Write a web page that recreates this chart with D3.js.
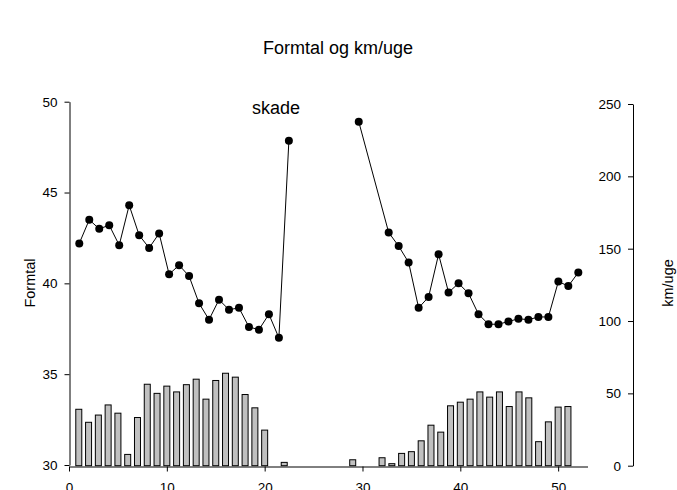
<!DOCTYPE html>
<html lang="en">
<head>
<meta charset="utf-8">
<title>Formtal og km/uge</title>
<script src="https://d3js.org/d3.v7.min.js"></script>
<style>
	body { margin: 0; background: #fff; }
	text { font-family: Arial, "Liberation Sans", sans-serif; fill: #000; }
	.axis path, .axis line { stroke: #000; stroke-width: 1; }
	.axis text { font-size: 13.5px; }
</style>
</head>
<body>
<svg class="chart"></svg>

<script>
//formtal (line) per week
var lineWeeks = [1, 2, 3, 4, 5, 6, 7, 8, 9, 10, 11, 12, 13, 14, 15, 16, 17, 18, 19, 20, 21, 22,
	29, 32, 33, 34, 35, 36, 37, 38, 39, 40, 41, 42, 43, 44, 45, 46, 47, 48, 49, 50, 51];
var formtal = [42.2, 43.5, 43.0, 43.2, 42.1, 44.3, 42.65, 41.95, 42.75, 40.5, 41.0, 40.4, 38.9, 38.0, 39.1, 38.55, 38.65, 37.6, 37.45, 38.3, 37.0, 47.85,
	48.9, 42.8, 42.05, 41.15, 38.65, 39.25, 41.6, 39.5, 40.0, 39.45, 38.3, 37.75, 37.75, 37.9, 38.05, 38.0, 38.15, 38.15, 40.1, 39.85, 40.6];

//km per week (bars)
var barWeeks = [1, 2, 3, 4, 5, 6, 7, 8, 9, 10, 11, 12, 13, 14, 15, 16, 17, 18, 19, 20, 22,
	29, 32, 33, 34, 35, 36, 37, 38, 39, 40, 41, 42, 43, 44, 45, 46, 47, 48, 49, 50, 51];
var km = [39, 30, 35, 42, 36.3, 7.8, 33.3, 56.3, 50, 55, 51, 56, 59.8, 46, 58.9, 63.9, 61.2, 49.2, 40, 24.6, 2.3,
	4.1, 5.5, 1.4, 8.5, 9.7, 17.2, 28, 23.2, 41.4, 43.9, 46, 51, 47.4, 51, 40.9, 51, 46.9, 16.6, 30.3, 40.5, 40.9];

var xTicks = [0, 10, 20, 30, 40, 50];
var leftTicks = [30, 35, 40, 45, 50];
var rightTicks = [0, 50, 100, 150, 200, 250];

var width = 677;
var height = 490;

var chart = d3.select(".chart")
	.attr("width", width)
	.attr("height", height);

//scales: bars and ticks use 0-53, the line graph uses 0-52 across the same width
var xBar = d3.scaleLinear().domain([0, 53]).range([69, 587.5]);
var xLine = d3.scaleLinear().domain([0, 52]).range([69.3, 588.3]);
var yLeft = d3.scaleLinear().domain([30, 50]).range([465, 101.7]);
var yRight = d3.scaleLinear().domain([0, 250]).range([465.7, 104]);

//bars
chart.selectAll(".bar")
	.data(barWeeks)
	.enter()
	.append("rect")
	.attr("class", "bar")
	.attr("x", function(d) { return xBar(d) - 3; })
	.attr("y", function(d, i) { return yRight(km[i]); })
	.attr("width", 6)
	.attr("height", function(d, i) { return yRight(0) - yRight(km[i]); })
	.style("fill", "#c0c0c0")
	.style("stroke", "#000")
	.style("stroke-width", 1);

//line with a gap where weeks are missing
var linePts = lineWeeks.map(function(w, i) { return { week: w, v: formtal[i], prev: i > 0 ? lineWeeks[i - 1] : w - 1 }; });
var segments = [];
linePts.forEach(function(p) {
	if (p.week - p.prev > 5 || segments.length === 0) segments.push([]);
	segments[segments.length - 1].push(p);
});

var line = d3.line()
	.x(function(d) { return xLine(d.week); })
	.y(function(d) { return yLeft(d.v); });

chart.selectAll(".seg")
	.data(segments)
	.enter()
	.append("path")
	.attr("class", "seg")
	.attr("d", line)
	.style("fill", "none")
	.style("stroke", "#000")
	.style("stroke-width", 1);

chart.selectAll(".dot")
	.data(linePts)
	.enter()
	.append("circle")
	.attr("class", "dot")
	.attr("cx", function(d) { return xLine(d.week); })
	.attr("cy", function(d) { return yLeft(d.v); })
	.attr("r", 4)
	.style("fill", "#000");

//axes
chart.append("g")
	.attr("class", "axis")
	.attr("transform", "translate(0,466.5)")
	.call(d3.axisBottom(xBar).tickValues(xTicks).tickSize(5).tickPadding(11).tickSizeOuter(0));

chart.append("g")
	.attr("class", "axis")
	.attr("transform", "translate(69.5,0)")
	.call(d3.axisLeft(yLeft).tickValues(leftTicks).tickSize(5).tickPadding(7).tickSizeOuter(0));

chart.append("g")
	.attr("class", "axis")
	.attr("transform", "translate(633,0)")
	.call(d3.axisLeft(yRight).tickValues(rightTicks).tickSize(5).tickPadding(7).tickSizeOuter(0));

//titles
chart.append("text")
	.attr("x", 338)
	.attr("y", 54)
	.style("text-anchor", "middle")
	.style("font-size", "18px")
	.text("Formtal og km/uge");

chart.append("text")
	.attr("x", 276)
	.attr("y", 114)
	.style("text-anchor", "middle")
	.style("font-size", "18px")
	.text("skade");

chart.append("text")
	.attr("transform", "translate(35,283) rotate(-90)")
	.style("text-anchor", "middle")
	.style("font-size", "14.5px")
	.text("Formtal");

chart.append("text")
	.attr("transform", "translate(673,283) rotate(-90)")
	.style("text-anchor", "middle")
	.style("font-size", "14.5px")
	.text("km/uge");
</script>
</body>
</html>
